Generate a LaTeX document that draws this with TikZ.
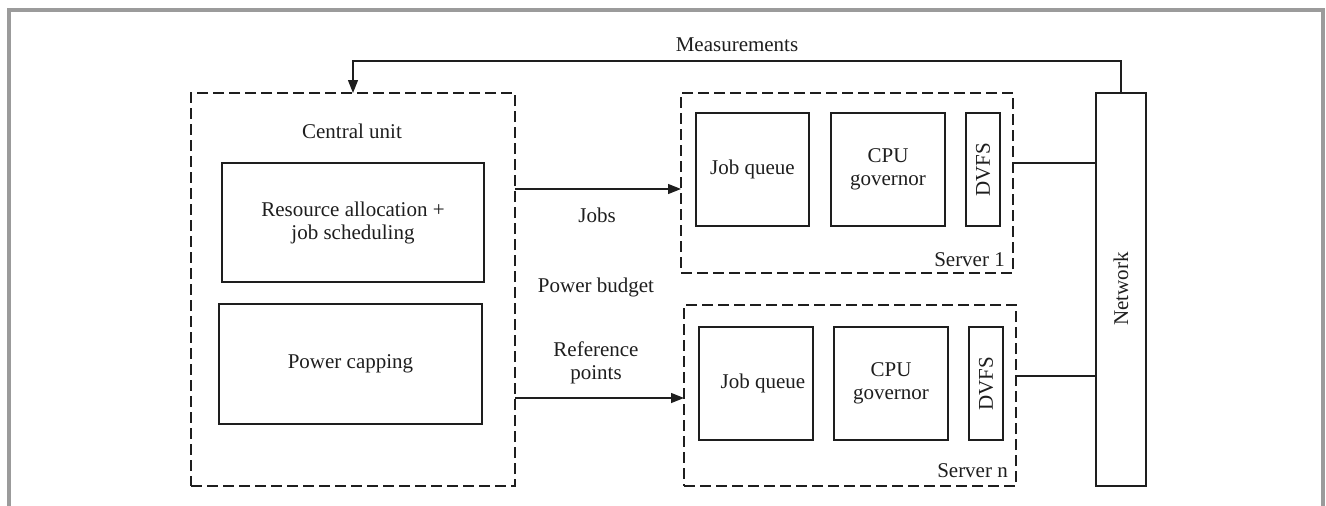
\documentclass[tikz,border=0pt]{standalone}
\usepackage{fontspec}
\setmainfont{Liberation Serif}
\usetikzlibrary{arrows.meta}
\definecolor{framegray}{RGB}{155,155,155}
\definecolor{ink}{RGB}{30,30,30}
\begin{document}
\begin{tikzpicture}[x=1pt,y=-1pt,
  every node/.style={font=\fontsize{21}{24}\selectfont, text=ink},
  blk/.style={draw=ink, line width=1.4pt, inner sep=0pt, outer sep=0pt, anchor=north west},
  dbox/.style={draw=ink, line width=1.4pt, dash pattern=on 11pt off 5pt, inner sep=0pt, outer sep=0pt, anchor=north west},
  lbl/.style={inner sep=0pt, align=center},
  conn/.style={draw=ink, line width=1.4pt},
  arr/.style={conn, -{Triangle[length=13pt,width=10pt]}}
]
\useasboundingbox (0,0) rectangle (1326,506);
% frame
\draw[framegray, line width=4pt] (9,506) -- (9,10) -- (1323,10) -- (1323,506);

% central unit
\node[dbox, minimum width=324pt, minimum height=393pt] (cu) at (191,93) {};
\node[lbl] (cul) at (352,131) {Central unit};
\node[blk, minimum width=262pt, minimum height=119pt] (ra) at (222,163) {};
\node[lbl] (ral) at (ra.center) {Resource allocation +\\[-1pt]job scheduling};
\node[blk, minimum width=263pt, minimum height=120pt] (pc) at (219,304) {};
\node[lbl] (pcl) at (pc.center) {Power capping};

% server 1
\node[dbox, minimum width=332pt, minimum height=180pt] (s1) at (681,93) {};
\node[blk, minimum width=113pt, minimum height=113pt] (jq1) at (696,113) {};
\node[lbl] (jq1l) at (jq1.center) {Job queue};
\node[blk, minimum width=114pt, minimum height=113pt] (cg1) at (831,113) {};
\node[lbl] (cg1l) at (cg1.center) {CPU\\[-1pt]governor};
\node[blk, minimum width=34pt, minimum height=113pt] (dv1) at (966,113) {};
\node[lbl, rotate=90] (dv1l) at (dv1.center) {DVFS};
\node[lbl, anchor=base east] (s1l) at (1005,266) {Server 1};

% server n
\node[dbox, minimum width=332pt, minimum height=181pt] (sn) at (684,305) {};
\node[blk, minimum width=114pt, minimum height=113pt] (jqn) at (699,327) {};
\node[lbl] (jqnl) at (763,383) {Job queue};
\node[blk, minimum width=114pt, minimum height=113pt] (cgn) at (834,327) {};
\node[lbl] (cgnl) at (cgn.center) {CPU\\[-1pt]governor};
\node[blk, minimum width=34pt, minimum height=113pt] (dvn) at (969,327) {};
\node[lbl, rotate=90] (dvnl) at (dvn.center) {DVFS};
\node[lbl, anchor=base east] (snl) at (1008,477) {Server n};

% network
\node[blk, minimum width=50pt, minimum height=393pt] (net) at (1096,93) {};
\node[lbl, rotate=90] (netl) at (1121,289) {Network};

% connector levels
\coordinate (my) at (0,61);
\coordinate (jy) at (0,189);
\coordinate (ry) at (0,398);
\coordinate (l1) at (0,163);
\coordinate (ln) at (0,376);

% connectors
\draw[arr] (net.north) -- (net.north |- my) -- (cu.north |- my) -- (cu.north);
\draw[arr] (cu.east |- jy) -- (s1.west |- jy);
\draw[arr] (cu.east |- ry) -- (sn.west |- ry);
\draw[conn] (s1.east |- l1) -- (net.west |- l1);
\draw[conn] (sn.east |- ln) -- (net.west |- ln);

% labels
\node[lbl] (ml) at (737,45) {Measurements};
\node[lbl] (jl) at (597,215) {Jobs};
\node[lbl] (pbl) at (596,287) {Power budget};
\node[lbl] (rpl) at (596,363) {Reference\\[-1pt]points};
\end{tikzpicture}
\end{document}
